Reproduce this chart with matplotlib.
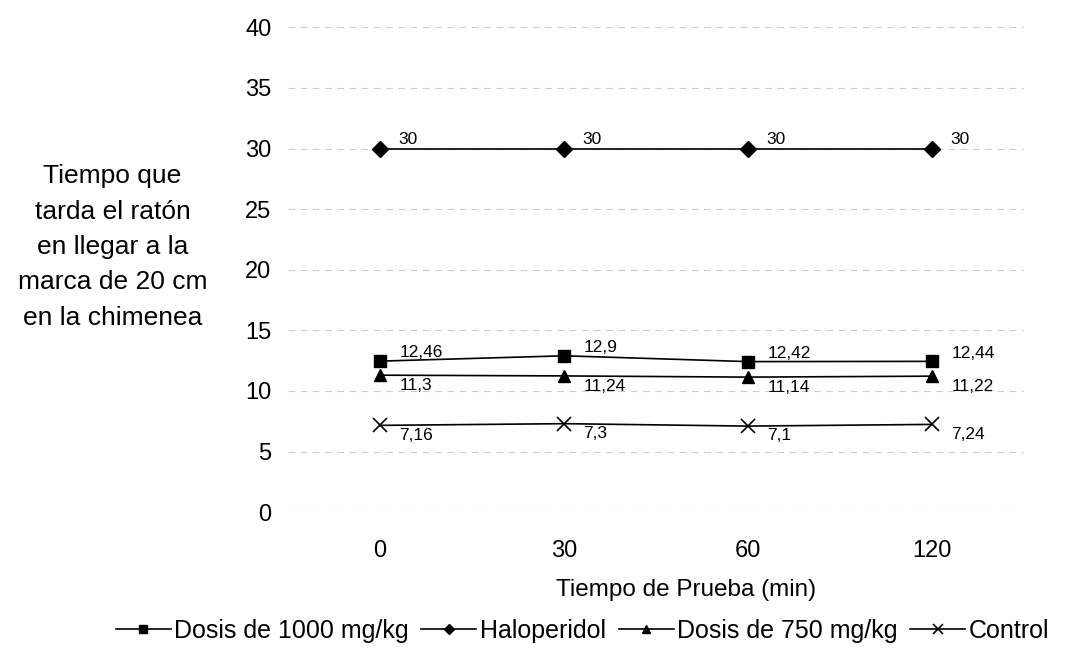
import matplotlib.pyplot as plt

plt.rcParams['font.family'] = ['Liberation Sans', 'DejaVu Sans']

tiempos = ['0', '30', '60', '120']
dosis_1000 = [12.46, 12.9, 12.42, 12.44]
haloperidol = [30, 30, 30, 30]
dosis_750 = [11.3, 11.24, 11.14, 11.22]
control = [7.16, 7.3, 7.1, 7.24]

fig = plt.figure(figsize=(10.71, 6.66), dpi=100)
ax = fig.add_axes([0.269, 0.231, 0.687, 0.728])

x = range(len(tiempos))
ax.plot(x, dosis_1000, color='black', marker='s', markersize=8, linewidth=1.2, label='Dosis de 1000 mg/kg')
ax.plot(x, haloperidol, color='black', marker='D', markersize=8, linewidth=1.2, label='Haloperidol')
ax.plot(x, dosis_750, color='black', marker='^', markersize=9, linewidth=1.2, label='Dosis de 750 mg/kg')
ax.plot(x, control, color='black', marker='x', markersize=10, markeredgewidth=1.2, linewidth=1.2, label='Control')

def fmt(v):
    return ('%g' % v).replace('.', ',')

# etiquetas de datos
for i in x:
    ax.annotate(fmt(haloperidol[i]), (i, haloperidol[i]), xytext=(13, 6.5), textcoords='offset points',
                fontsize=12.5, va='center')
    ax.annotate(fmt(dosis_1000[i]), (i, dosis_1000[i]), xytext=(14, 6), textcoords='offset points',
                fontsize=12.5, va='center')
    ax.annotate(fmt(dosis_750[i]), (i, dosis_750[i]), xytext=(14, -7.5), textcoords='offset points',
                fontsize=12.5, va='center')
    ax.annotate(fmt(control[i]), (i, control[i]), xytext=(14, -7), textcoords='offset points',
                fontsize=12.5, va='center')

ax.set_xlim(-0.5, 3.5)
ax.set_ylim(0, 40)
ax.set_yticks(range(0, 41, 5))
ax.set_xticks(list(x))
ax.set_xticklabels(tiempos)
ax.tick_params(axis='both', length=0, labelsize=17)
ax.tick_params(axis='y', pad=12)
ax.tick_params(axis='x', pad=20)
ax.yaxis.grid(True, color='#cccccc', linestyle=(0, (6, 5)), linewidth=0.8)
for s in ax.spines.values():
    s.set_visible(False)

fig.text(0.641, 0.114, 'Tiempo de Prueba (min)', ha='center', va='center', fontsize=17.5)
fig.text(0.105, 0.629, 'Tiempo que\ntarda el ratón\nen llegar a la\nmarca de 20 cm\nen la chimenea',
         ha='center', va='center', fontsize=19, linespacing=1.6)

fig.legend(loc='center', bbox_to_anchor=(0.544, 0.053), ncol=4, frameon=False, fontsize=18,
           handlelength=2.2, handletextpad=0.15, columnspacing=0.5, markerscale=0.7)

fig.savefig('out.png', dpi=100)
